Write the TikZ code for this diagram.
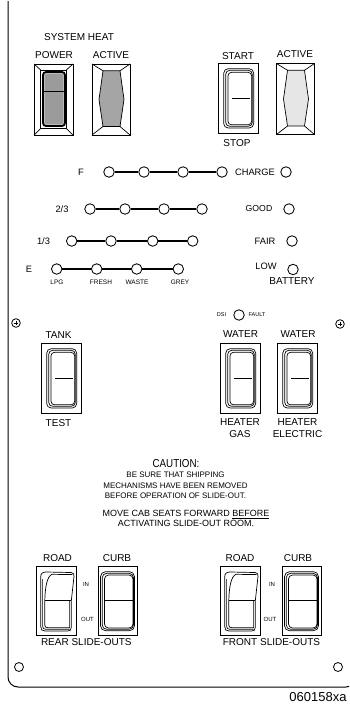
\documentclass[tikz,border=0pt]{standalone}
\usepackage{fontspec}
\setmainfont{Liberation Sans}
\definecolor{rockgray}{RGB}{155,155,155}
\definecolor{lampdark}{RGB}{165,165,165}
\definecolor{lamplight}{RGB}{230,230,230}
\tikzset{
  sw/.style={line width=0.7pt},
  rockerA/.pic={
    \draw[sw] (0,0) rectangle (40,70);
    \draw[sw,rounded corners=4.5] (5.7,5.7) rectangle (35.7,65);
    \draw[sw,rounded corners=4] (7.7,7.3) rectangle (34.3,63.3);
    \draw[sw,rounded corners=3.5] (10,9.3) rectangle (33.6,61.8);
    \draw[sw] (14,35.5) -- (31.5,35.5);
  },
  rockerB/.pic={
    \draw[sw] (0,0) rectangle (39,69);
    \draw[sw,rounded corners=5] (2.5,5.7) rectangle (36.5,64.7);
    \draw[sw,rounded corners=4.5] (4.2,7.3) rectangle (35.5,63.3);
    \draw[sw,rounded corners=4] (6.5,9) rectangle (35,62);
    \draw[sw] (6.5,34.7) -- (35,34.7);
  },
  rockerC/.pic={
    \draw[sw] (0,0) rectangle (40,69);
    \draw[sw] (4.7,11) .. controls (4.7,7.5) and (6.5,6) .. (10,6) -- (35,6.5)
      .. controls (37.5,6.6) and (38.3,8) .. (38,10.5) -- (35.3,34.7) -- (35.3,61.5)
      .. controls (35.3,64) and (34,65) .. (31.5,65) -- (9,65)
      .. controls (6,65) and (4.7,63.5) .. (4.7,60.5) -- cycle;
    \draw[sw] (6.6,13) -- (6.6,60) .. controls (6.6,62.5) and (7.8,63.3) .. (10,63.3) -- (33.5,63.3);
    \draw[sw] (8.8,34.7) -- (8.8,59) .. controls (8.8,61) and (9.8,61.7) .. (12,61.7) -- (33.6,61.7) -- (33.6,34.7);
    \draw[sw] (8.8,34.7) .. controls (9,22) and (11,10) .. (16,8.3) -- (36.5,8.6);
    \draw[sw] (8.8,34.7) -- (35.3,34.7);
  },
  powersw/.pic={
    \draw[sw] (0,0) rectangle (39,71);
    \draw[sw] (6.7,6) rectangle (32.3,64.5);
    \draw[sw] (0,0) -- (6.7,6) (39,0) -- (32.3,6) (0,71) -- (6.7,64.5) (39,71) -- (32.3,64.5);
    \draw[line width=1.8pt,fill=rockgray,rounded corners=3] (9,8) rectangle (31,62);
    \draw[line width=0.4pt,gray!40,rounded corners=2] (10.6,9.6) rectangle (29.4,60.4);
    \draw[line width=0.8pt] (10,27) -- (30,27);
  },
  lamp/.pic={
    \draw[sw] (0,0) rectangle (38,71);
    \draw[sw,fill=#1] (11,6.8) -- (28,6.8) -- (32,35.5) -- (28,62.5) -- (11,62.5) -- (7,35.5) -- cycle;
    \draw[sw] (0,0) -- (11,6.8) (38,0) -- (28,6.8) (0,71) -- (11,62.5) (38,71) -- (28,62.5);
  },
  screw/.pic={
    \draw[line width=0.8pt] (0,0) circle (4.3);
    \draw[line width=1pt] (-2.4,0) -- (2.4,0) (0,-2.4) -- (0,2.4);
  },
  lbl/.style={inner sep=0pt,font=\fontsize{10}{12}\selectfont},
  ledlbl/.style={inner sep=0pt,font=\fontsize{9.3}{11}\selectfont},
  tinylbl/.style={inner sep=0pt,font=\fontsize{6.5}{8}\selectfont},
  microlbl/.style={inner sep=0pt,font=\fontsize{5.5}{7}\selectfont},
  cautlbl/.style={inner sep=0pt,font=\fontsize{8}{10}\selectfont},
  cautbig/.style={inner sep=0pt,font=\fontsize{9}{11}\selectfont},
  led/.style={circle,draw,line width=0.85pt,minimum size=10.5pt,inner sep=0pt},
  ledline/.style={line width=1.8pt},
}
\begin{document}
\begin{tikzpicture}[x=1pt,y=-1pt]
\useasboundingbox (0,0) rectangle (349,712);
\clip (0,0) rectangle (349,712);
% panel outline
\draw[line width=1pt,rounded corners=10] (8,1) -- (8,687) -- (356,687) -- (356,1);

% top switches
\node[lbl] (sysheat) at (79,37) {SYSTEM HEAT};
\node[lbl] (power) at (54,55) {POWER};
\node[lbl] (active1) at (111,55) {ACTIVE};
\node[lbl] (start) at (238,56.5) {START};
\node[lbl] (active2) at (295,54.5) {ACTIVE};
\node[lbl] (stop) at (237,143) {STOP};
\pic at (34,64) {powersw};
\pic at (92,64) {lamp=lampdark};
\pic at (218,63) {rockerA};
\pic at (276.5,63.5) {lamp=lamplight};

% LED rows
\node[ledlbl] (lf) at (81,172) {F};
\node[led] (f1) at (109,172) {};
\node[led] (f2) at (144,172) {};
\node[led] (f3) at (183,172) {};
\node[led] (f4) at (222,172) {};
\draw[ledline] (f1) -- (f2); \draw[ledline] (f2) -- (f3); \draw[ledline] (f3) -- (f4);
\node[ledlbl] (charge) at (255,172) {CHARGE};
\node[led] (lc) at (286,172) {};

\node[ledlbl] (l23) at (62,209) {2/3};
\node[led] (t1) at (90,209) {};
\node[led] (t2) at (125,209) {};
\node[led] (t3) at (164,209) {};
\node[led] (t4) at (202,209) {};
\draw[ledline] (t1) -- (t2); \draw[ledline] (t2) -- (t3); \draw[ledline] (t3) -- (t4);
\node[inner sep=0pt,font=\fontsize{8.7}{10}\selectfont] (good) at (259,209) {GOOD};
\node[led] (lg) at (289,209) {};

\node[ledlbl] (l13) at (43.5,241) {1/3};
\node[led] (o1) at (71.7,241) {};
\node[led] (o2) at (111,241) {};
\node[led] (o3) at (152.7,241) {};
\node[led] (o4) at (192.7,241) {};
\draw[ledline] (o1) -- (o2); \draw[ledline] (o2) -- (o3); \draw[ledline] (o3) -- (o4);
\node[ledlbl] (fair) at (265,241) {FAIR};
\node[led] (lfa) at (292,241) {};

\node[ledlbl] (le) at (29,269) {E};
\node[led] (e1) at (56.7,269) {};
\node[led] (e2) at (96.7,269) {};
\node[led] (e3) at (136.7,269) {};
\node[led] (e4) at (178.3,269) {};
\draw[ledline] (e1) -- (e2); \draw[ledline] (e2) -- (e3); \draw[ledline] (e3) -- (e4);
\node[tinylbl] (lpg) at (57,282) {LPG};
\node[tinylbl] (fresh) at (101,282) {FRESH};
\node[tinylbl] (waste) at (137,282) {WASTE};
\node[tinylbl] (grey) at (180,282) {GREY};
\node[ledlbl] (low) at (266,266) {LOW};
\node[led] (ll) at (293,269.5) {};
\node[lbl] (battery) at (292,281) {BATTERY};

% middle switches
\pic at (16,323) {screw};
\pic at (340,324) {screw};
\node[lbl] (tank) at (58.5,335) {TANK};
\pic at (41,343) {rockerA};
\node[lbl] (test) at (58.5,423) {TEST};
\node[microlbl] (dsi) at (221.5,315) {DSI};
\node[led] (ldsi) at (239,315) {};
\node[microlbl] (fault) at (257,315) {FAULT};
\node[lbl] (water1) at (240.5,334) {WATER};
\pic at (220,343) {rockerA};
\node[lbl] (heater1) at (240,422) {HEATER};
\node[lbl] (gas) at (240,434) {GAS};
\node[lbl] (water2) at (298,334) {WATER};
\pic at (277,343) {rockerA};
\node[lbl] (heater2) at (297.5,422) {HEATER};
\node[lbl] (electric) at (297.5,434) {ELECTRIC};

% caution
\node[inner sep=0pt,font=\fontsize{11.5}{13}\selectfont] (caution) at (176,464) {\scalebox{0.85}[1]{CAUTION:}};
\node[cautlbl] (c1) at (175.5,475) {BE SURE THAT SHIPPING};
\node[cautlbl] (c2) at (175.5,485.5) {MECHANISMS HAVE BEEN REMOVED};
\node[cautlbl] (c3) at (175.5,496) {BEFORE OPERATION OF SLIDE-OUT.};
\node[cautbig,anchor=base] (c4) at (186,516.3) {MOVE CAB SEATS FORWARD \underline{BEFORE}};
\node[cautbig] (c5) at (186,523) {ACTIVATING SLIDE-OUT ROOM.};

% bottom switches
\node[lbl] (road1) at (57.5,558) {ROAD};
\pic at (36,566) {rockerC};
\node[lbl] (curb1) at (117,558) {CURB};
\pic at (98,566) {rockerB};
\node[microlbl,font=\fontsize{6}{7}\selectfont] (in1) at (86,584) {IN};
\node[microlbl,font=\fontsize{6}{7}\selectfont] (out1) at (87.5,619) {OUT};
\node[lbl] (rear) at (86.3,642) {REAR SLIDE-OUTS};

\node[lbl] (road2) at (240,558) {ROAD};
\pic at (220,566) {rockerC};
\node[lbl] (curb2) at (298,558) {CURB};
\pic at (282,566) {rockerB};
\node[microlbl,font=\fontsize{6}{7}\selectfont] (in2) at (272,584) {IN};
\node[microlbl,font=\fontsize{6}{7}\selectfont] (out2) at (270,619) {OUT};
\node[lbl] (front) at (271.5,642) {FRONT SLIDE-OUTS};

% holes
\draw[line width=0.8pt] (19,667) circle (4.5);
\draw[line width=0.8pt] (338,667) circle (4.5);

\node[inner sep=0pt,font=\fontsize{13}{15}\selectfont] (code) at (318,697) {060158xa};
\end{tikzpicture}
\end{document}
